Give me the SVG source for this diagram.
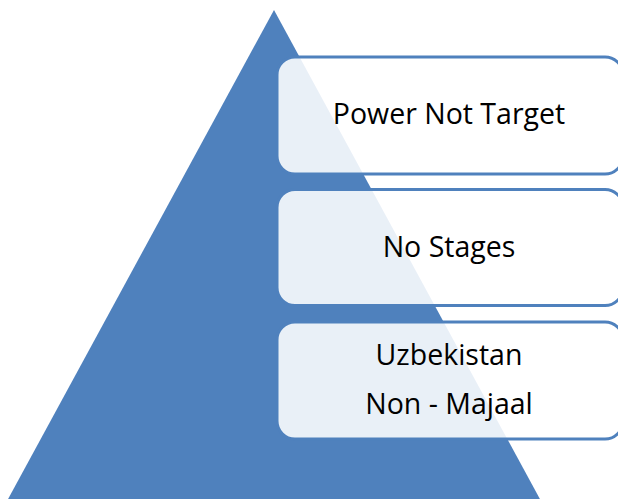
<svg xmlns="http://www.w3.org/2000/svg" width="618" height="499" viewBox="0 0 618 499">
<style>
.box{fill:#ffffff;fill-opacity:0.88;stroke:#4F81BD;stroke-width:3}
.lbl{font-family:"Open Sans","Liberation Sans",sans-serif;font-size:28.5px;fill:#000000;text-anchor:middle}
</style>
<rect width="618" height="499" fill="#ffffff"/>
<g id="pyramid">
<polygon points="274,10 7,501 541,501" fill="#4F81BD"/>
</g>
<g id="connectors"></g>
<g id="node-power">
<rect class="box" x="277" y="57" width="346" height="117" rx="18" ry="18"/>
<text class="lbl" x="449" y="124">Power Not Target</text>
</g>
<g id="node-stages">
<rect class="box" x="277" y="189.5" width="346" height="116" rx="18" ry="18"/>
<text class="lbl" x="449" y="257">No Stages</text>
</g>
<g id="node-uzbekistan">
<rect class="box" x="277" y="322" width="346" height="117" rx="18" ry="18"/>
<text class="lbl" x="449" y="365">Uzbekistan</text>
<text class="lbl" x="449" y="414">Non - Majaal</text>
</g>
</svg>
